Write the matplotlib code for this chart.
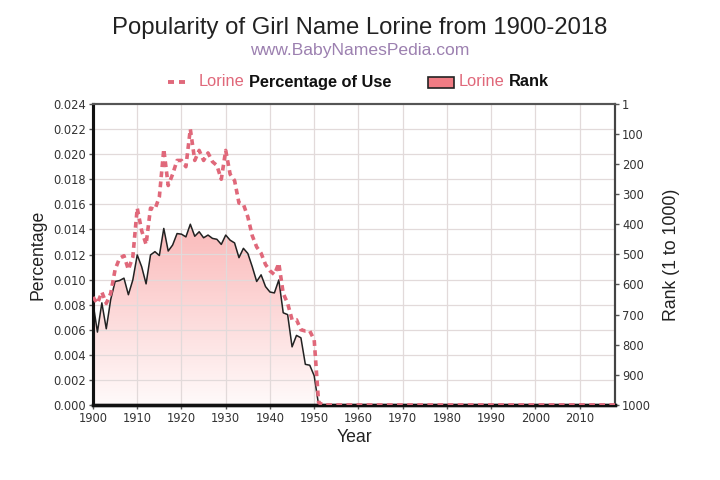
import numpy as np
import matplotlib
matplotlib.use("Agg")
import matplotlib.pyplot as plt
from matplotlib.lines import Line2D
from matplotlib.patches import Rectangle
from matplotlib.colors import LinearSegmentedColormap

plt.rcParams['font.family'] = ['Liberation Sans', 'DejaVu Sans']

# ---- data ----
years = list(range(1900, 2019))

pct_1900_1951 = [
    0.0086, 0.0081, 0.0090, 0.0081, 0.0089, 0.0108, 0.0117, 0.0119, 0.0108, 0.0118,
    0.0157, 0.0139, 0.0128, 0.0157, 0.0156, 0.0166, 0.0204, 0.0175, 0.0184, 0.0195,
    0.0195, 0.0190, 0.0220, 0.0195, 0.0203, 0.0195, 0.0201, 0.0194, 0.0191, 0.0180,
    0.0203, 0.0184, 0.0179, 0.0161, 0.0160, 0.0150, 0.0135, 0.0126, 0.0121, 0.0112,
    0.0107, 0.0104, 0.0113, 0.0089, 0.0081, 0.0068, 0.0068, 0.0060, 0.0059, 0.0059,
    0.0052, 0.0002,
]
percentage = pct_1900_1951 + [0.0] * (len(years) - len(pct_1900_1951))

rank_years = list(range(1900, 1952))
rank = [
    661, 758, 661, 747, 650, 590, 587, 579, 634, 585,
    502, 541, 598, 502, 491, 504, 414, 489, 469, 431,
    433, 442, 400, 440, 425, 445, 436, 447, 450, 467,
    436, 453, 462, 511, 480, 497, 541, 590, 568, 607,
    625, 628, 585, 694, 700, 807, 769, 777, 865, 868,
    903, 1000,
]

pct_ticks = np.arange(0, 0.0241, 0.002)
rank_ticks = [1, 100, 200, 300, 400, 500, 600, 700, 800, 900, 1000]

PINK = '#e0687a'

# ---- figure ----
fig = plt.figure(figsize=(7.2, 4.8), dpi=100, facecolor='white')
ax = fig.add_axes([93/720, 1 - 405/480, (615 - 93)/720, (405 - 104)/480])
ax2 = ax.twinx()

# rank area with vertical gradient (pink at top -> white at bottom)
poly = ax2.fill_between(rank_years, rank, 1000, facecolor='none', edgecolor='none')
grad = np.linspace(0, 1, 256).reshape(-1, 1)
cmap = LinearSegmentedColormap.from_list('pinkfade', ['#fffafa', '#fbc4c4', '#f59a9a'])
img = ax2.imshow(grad, extent=[1900, 2018, 1000, 1], origin='lower', aspect='auto',
                 cmap=cmap, zorder=1)
img.set_clip_path(poly.get_paths()[0], transform=ax2.transData)
ax2.plot(rank_years, rank, color='#222222', linewidth=1.1, zorder=3)
ax2.set_xlim(1900, 2018)
ax2.set_ylim(1000, 1)

# grid drawn over the area (light)
for yv in pct_ticks[1:-1]:
    ax2.axhline(1 + (0.024 - yv) / 0.024 * 999, color='#e2dada', linewidth=0.9, zorder=2)
for xv in range(1910, 2018, 10):
    ax2.axvline(xv, color='#e2dada', linewidth=0.9, zorder=2)

# percentage dashed line on the primary axis, above the area
ax2.set_zorder(1)
ax.set_zorder(2)
ax.patch.set_visible(False)
ax.plot(years, percentage, color=PINK, linewidth=2.6, linestyle=(0, (1.6, 1.2)),
        zorder=4)
ax.set_xlim(1900, 2018)
ax.set_ylim(0, 0.024)

ax.set_xticks(range(1900, 2011, 10))
ax.set_yticks(pct_ticks)
ax.set_yticklabels(['%.3f' % v for v in pct_ticks])
ax2.set_yticks(rank_ticks)

# spines & ticks
for a in (ax, ax2):
    a.spines['top'].set_color('#555555')
    a.spines['top'].set_linewidth(1.5)
    a.spines['left'].set_color('#111111')
    a.spines['left'].set_linewidth(2.2)
    a.spines['bottom'].set_color('#111111')
    a.spines['bottom'].set_linewidth(2.4)
    a.spines['right'].set_color('#444444')
    a.spines['right'].set_linewidth(1.5)

tick_font = dict(labelcolor='#333333', colors='#555555')
ax.tick_params(axis='both', direction='out', length=3, width=1, pad=2, **tick_font)
ax2.tick_params(axis='y', direction='out', length=3, width=1, pad=2, **tick_font)
for lbl in ax.get_xticklabels() + ax.get_yticklabels() + ax2.get_yticklabels():
    lbl.set_family(['DejaVu Sans'])
    lbl.set_fontsize(8.3)

ax.set_xlabel('Year', fontsize=12.7, color='#222222', labelpad=3)
ax.set_ylabel('Percentage', fontsize=12.7, color='#222222', labelpad=5)
ax2.set_ylabel('Rank (1 to 1000)', fontsize=12.7, color='#222222', labelpad=9)

# titles
fig.text(0.5, 1 - 28/480, 'Popularity of Girl Name Lorine from 1900-2018',
         ha='center', va='center', fontsize=17.2, color='#222222')
fig.text(0.5, 1 - 51/480, 'www.BabyNamesPedia.com', ha='center', va='center',
         fontsize=12.6, color='#9c80b0')

# legend (built by hand for two-colour labels)
ly = 1 - 82/480
for x0 in (168, 179):
    fig.add_artist(Line2D([x0/720, (x0 + 6)/720], [ly, ly], transform=fig.transFigure,
                          color=PINK, linewidth=2.8, solid_capstyle='butt'))
t1 = fig.text(199/720, ly, 'Lorine', ha='left', va='center', fontsize=11.8, color=PINK)
fig.canvas.draw()
bb = t1.get_window_extent()
fig.text(bb.x1 / 720 + 4/720, ly, 'Percentage of Use', ha='left', va='center',
         fontsize=11.8, color='#111111', fontweight='bold')
fig.add_artist(Rectangle((428/720, ly - 5.5/480), 26/720, 11/480, transform=fig.transFigure,
                         facecolor='#f07c84', edgecolor='#222222', linewidth=1.2))
t2 = fig.text(459/720, ly, 'Lorine', ha='left', va='center', fontsize=11.8, color=PINK)
fig.canvas.draw()
bb = t2.get_window_extent()
fig.text(bb.x1 / 720 + 4/720, ly, 'Rank', ha='left', va='center',
         fontsize=11.8, color='#111111', fontweight='bold')

fig.savefig('out.png', dpi=100)
